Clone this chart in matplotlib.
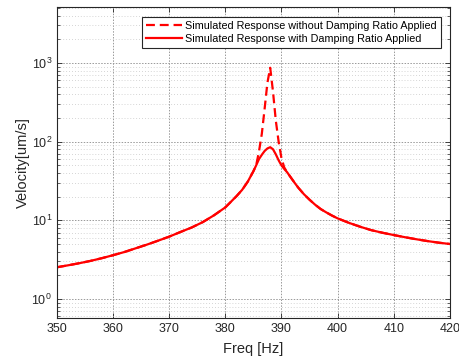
import numpy as np
import matplotlib
matplotlib.use('Agg')
from matplotlib import pyplot as plt
from matplotlib.ticker import LogLocator, NullFormatter, MultipleLocator

plt.rcParams['font.family'] = ['Liberation Sans', 'DejaVu Sans']
plt.rcParams['mathtext.fontset'] = 'custom'
plt.rcParams['mathtext.rm'] = 'Liberation Sans'

# values
freq = [350, 352, 354, 356, 358, 360, 362, 364, 366, 368, 370, 372, 374, 376, 378,
        380, 381, 382, 383, 384, 385, 385.5, 386, 386.5, 387, 387.5, 388, 388.5,
        389, 389.5, 390, 390.5, 391, 391.5, 392, 392.5, 393, 394, 395, 396, 397,
        398, 399, 400, 402, 404, 406, 408, 410, 412, 414, 416, 418, 420]
vel_damped = [2.53, 2.68, 2.85, 3.05, 3.3, 3.6, 3.95, 4.4, 4.9, 5.5, 6.2, 7.1, 8.1,
              9.5, 11.6, 14.6, 17.2, 20.3, 24.4, 31, 42, 50, 60, 68, 76, 82, 85,
              80, 69, 58, 50, 45, 41, 36.5, 32.5, 29, 26, 21.5, 18.3, 15.8, 13.9,
              12.6, 11.5, 10.6, 9.3, 8.3, 7.5, 6.95, 6.5, 6.1, 5.75, 5.45, 5.2, 5.0]
vel_undamped = [2.53, 2.68, 2.85, 3.05, 3.3, 3.6, 3.95, 4.4, 4.9, 5.5, 6.2, 7.1, 8.1,
                9.5, 11.6, 14.6, 17.2, 20.3, 24.4, 31, 42, 50, 75, 125, 260, 560, 870,
                430, 185, 100, 62, 47, 41, 36.5, 32.5, 29, 26, 21.5, 18.3, 15.8, 13.9,
                12.6, 11.5, 10.6, 9.3, 8.3, 7.5, 6.95, 6.5, 6.1, 5.75, 5.45, 5.2, 5.0]

label_undamped = 'Simulated Response without Damping Ratio Applied'
label_damped = 'Simulated Response with Damping Ratio Applied'

AX_COLOR = (0.15, 0.15, 0.15)

fig = plt.figure(figsize=(4.59, 3.6), dpi=100)
ax = fig.add_axes([0.124, 0.1175, 0.856, 0.863])

ax.plot(freq, vel_undamped, '--', color='red', lw=1.6, dashes=(4, 2.2), label=label_undamped)
ax.plot(freq, vel_damped, '-', color='red', lw=1.6, label=label_damped)

ax.set_yscale('log')
ax.set_xlim(350, 420)
ax.set_ylim(0.578, 5150)
ax.xaxis.set_major_locator(MultipleLocator(10))
ax.yaxis.set_major_locator(LogLocator(base=10, numticks=10))
ax.yaxis.set_minor_locator(LogLocator(base=10, subs=np.arange(2, 10), numticks=20))
ax.yaxis.set_minor_formatter(NullFormatter())

ax.grid(True, which='major', axis='both', color=(0.6, 0.6, 0.6), ls=(0, (1.5, 1.5)), lw=0.7)
ax.grid(True, which='minor', axis='y', color=(0.78, 0.78, 0.78), ls=(0, (1, 2.5)), lw=0.6)
ax.set_axisbelow(True)

ax.tick_params(which='both', direction='in', top=True, right=True, colors=AX_COLOR,
               labelsize=9, labelcolor=AX_COLOR)
ax.tick_params(which='major', length=3.5, width=0.6)
ax.tick_params(which='minor', length=2, width=0.5)
for sp in ax.spines.values():
    sp.set_color(AX_COLOR)
    sp.set_linewidth(0.8)

ax.set_xlabel('Freq [Hz]', fontsize=10.5, color=AX_COLOR, labelpad=5)
ax.set_ylabel('Velocity[um/s]', fontsize=10.5, color=AX_COLOR, labelpad=1)

leg = ax.legend(loc='upper right', bbox_to_anchor=(0.977, 0.968), fontsize=7.75,
                fancybox=False, framealpha=1, edgecolor=AX_COLOR, handlelength=3.4,
                borderpad=0.35, labelspacing=0.3, handletextpad=0.3, borderaxespad=0)
leg.get_frame().set_linewidth(0.8)

fig.savefig('out.png', dpi=100)
